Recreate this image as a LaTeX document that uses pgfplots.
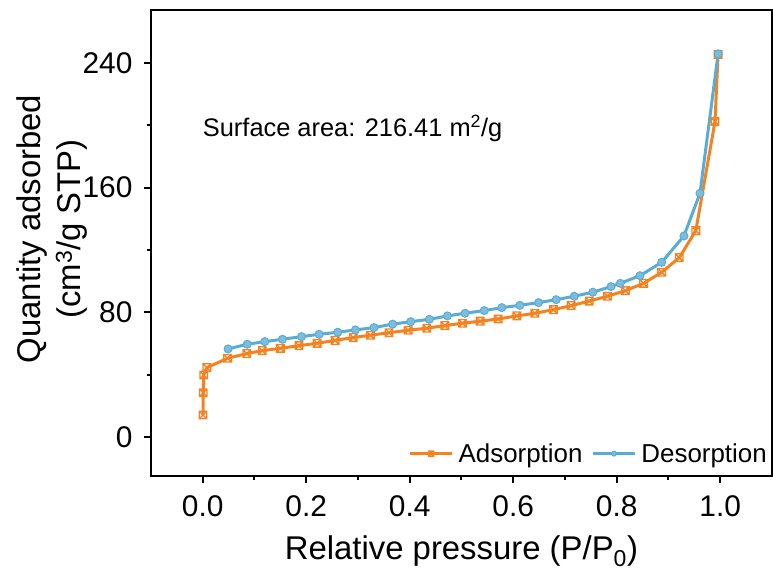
\documentclass[border=0pt]{standalone}
\usepackage{fontspec}
\setmainfont{Liberation Sans}
\usepackage{pgfplots}
\pgfplotsset{compat=1.18}
\definecolor{cOr}{RGB}{245,130,32}
\definecolor{cBl}{RGB}{90,172,212}
\pgfdeclareplotmark{sqx}{%
 \pgfpathrectangle{\pgfpoint{-\pgfplotmarksize}{-\pgfplotmarksize}}{\pgfpoint{2\pgfplotmarksize}{2\pgfplotmarksize}}%
 \pgfpathmoveto{\pgfpoint{-\pgfplotmarksize}{-\pgfplotmarksize}}\pgfpathlineto{\pgfpoint{\pgfplotmarksize}{\pgfplotmarksize}}%
 \pgfpathmoveto{\pgfpoint{-\pgfplotmarksize}{\pgfplotmarksize}}\pgfpathlineto{\pgfpoint{\pgfplotmarksize}{-\pgfplotmarksize}}%
 \pgfusepathqstroke}
\begin{document}
\begin{tikzpicture}
\begin{axis}[
  scale only axis,
  width=621bp, height=466bp,
  xmin=-0.1, xmax=1.1, ymin=-25, ymax=274,
  axis line style={line width=2.2bp},
  xtick={0,0.2,0.4,0.6,0.8,1.0},
  xticklabels={0.0,0.2,0.4,0.6,0.8,1.0},
  ytick={0,80,160,240},
  yticklabels={0,80,160,240},
  minor x tick num=1, minor y tick num=1,
  xtick pos=bottom, ytick pos=left,
  tick align=outside,
  major tick length=7bp, minor tick length=4bp,
  every tick/.style={line width=2bp, black},
  tick label style={font=\fontsize{30}{36}\selectfont},
  xticklabel style={yshift=-9bp},
  yticklabel style={xshift=-8bp},
  xlabel={Relative pressure (P/P\textsubscript{0})},
  xlabel style={font=\fontsize{33}{40}\selectfont, yshift=-12bp},
  ylabel={Quantity adsorbed\\(cm\textsuperscript{3}/g STP)},
  ylabel style={font=\fontsize{33}{41}\selectfont, align=center, at={(rel axis cs:0,0.53)}, anchor=south, inner sep=0pt, yshift=63bp},
  legend columns=2,
  legend style={draw=none, fill=none, at={(rel axis cs:1,0)}, anchor=south east, xshift=-3bp, yshift=10bp,
    font=\fontsize{26}{31}\selectfont, inner sep=0pt,
    /tikz/every even column/.append style={column sep=7bp},
    /tikz/every odd column/.append style={column sep=3bp}},
  legend image code/.code={%
    \draw[#1, mark=none] (0bp,0bp) -- (42bp,0bp);
    \draw[#1, mark size=2.5bp] plot coordinates {(21bp,0bp)};},
  clip=false,
]
\addplot[cOr, line width=3bp, mark=sqx, mark size=3.8bp, mark options={line width=1.3bp}] coordinates {
(0.0005,14.1) (0.001,28.4) (0.002,39.8) (0.008,44.5) (0.048,50.5) (0.085,53.5) (0.115,55.4) (0.15,56.9) (0.186,58.6) (0.221,60.1) (0.256,62.0) (0.291,63.8) (0.324,65.3) (0.36,66.9) (0.397,68.5) (0.433,69.8) (0.468,71.5) (0.502,73.0) (0.536,74.3) (0.571,75.7) (0.607,77.7) (0.642,79.4) (0.678,81.7) (0.712,84.3) (0.747,87.2) (0.782,90.3) (0.817,93.9) (0.852,98.6) (0.887,105.7) (0.921,115.1) (0.953,132.4) (0.990,202.4) (0.996,245.5)
};
\addlegendentry{Adsorption}
\addplot[cBl, line width=3bp, mark=*, mark size=4bp, mark options={fill=cBl!80!white, draw=cBl, line width=1bp}] coordinates {
(0.996,245.8) (0.961,156.4) (0.93,129) (0.887,112.1) (0.845,103.5) (0.807,98.6) (0.789,96.5) (0.754,92.9) (0.718,90.3) (0.683,88.1) (0.649,86.2) (0.613,84.5) (0.578,83.0) (0.544,81.1) (0.507,79.4) (0.473,77.7) (0.438,75.5) (0.402,74.0) (0.367,72.4) (0.331,70.2) (0.295,68.7) (0.261,67.2) (0.225,65.9) (0.191,64.4) (0.154,62.7) (0.12,61.2) (0.086,59.5) (0.049,56.5)
};
\addlegendentry{Desorption}
\node[anchor=base west, inner sep=0pt, font=\fontsize{25.5}{30}\selectfont] at (axis cs:0,192.6) {Surface area: 216.41 m\textsuperscript{2}/g};
\end{axis}
\path ([xshift=-151bp,yshift=-92bp]current axis.south west) rectangle ([xshift=1bp,yshift=10bp]current axis.north east);
\end{tikzpicture}
\end{document}
